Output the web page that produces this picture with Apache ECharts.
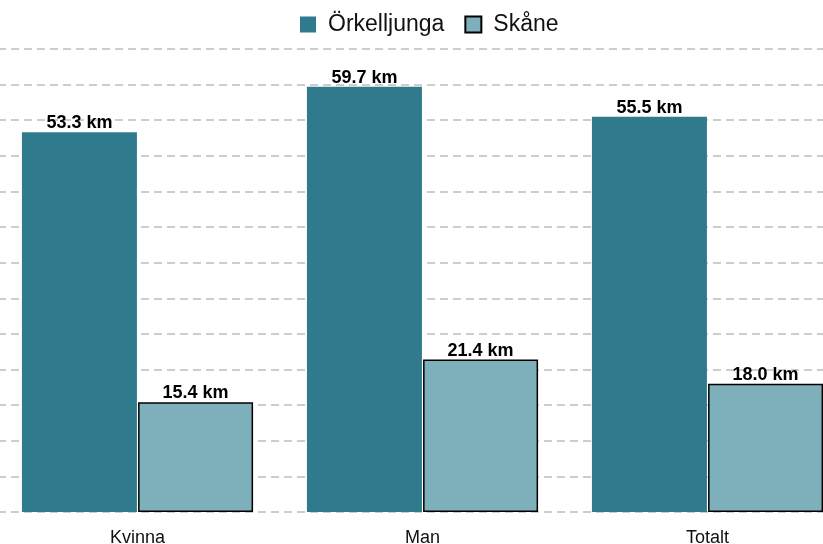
<!DOCTYPE html>
<html>
<head>
<meta charset="utf-8">
<script src="https://cdn.jsdelivr.net/npm/echarts@6/dist/echarts.min.js"></script>
<style>
  html, body { margin: 0; padding: 0; background: #fff; }
  #chart { width: 823px; height: 544px; }
</style>
</head>
<body>
<div id="chart"></div>
<script>
var categories = ["Kvinna", "Man", "Totalt"];
var orkelljunga = [53.3, 59.7, 55.5];
var skane = [15.4, 21.4, 18.0];

var myChart = echarts.init(document.getElementById("chart"));

var labelOpt = {
  show: true,
  position: "top",
  distance: 0,
  fontFamily: "Liberation Sans, Arial, sans-serif",
  fontSize: 18,
  fontWeight: "bold",
  color: "#000",
  formatter: function (p) {
    return p.value.toFixed(1) + " km";
  }
};

var option = {
  animation: false,
  legend: {
    top: 8,
    left: 295,
    icon: "rect",
    itemWidth: 16,
    itemHeight: 16,
    itemGap: 20,
    textStyle: { fontFamily: "Liberation Sans, Arial, sans-serif", fontSize: 23, color: "#111", padding: [0, 0, 0, 7] },
    data: ["Örkelljunga", "Skåne"]
  },
  grid: {
    left: -5,
    right: -27,
    top: 49,
    bottom: 32,
    outerBoundsMode: "none",
    containLabel: false
  },
  xAxis: {
    type: "category",
    data: categories,
    axisLine: { show: false },
    axisTick: { show: false },
    axisLabel: { fontFamily: "Liberation Sans, Arial, sans-serif", fontSize: 18, color: "#111", margin: 17 }
  },
  yAxis: {
    type: "value",
    min: 0,
    max: 65,
    interval: 5,
    axisLabel: { show: false },
    axisLine: { show: false },
    axisTick: { show: false },
    splitLine: {
      lineStyle: { color: "#bdbdbd", type: [8, 5], width: 1.5, dashOffset: 10 }
    }
  },
  series: [
    {
      name: "Örkelljunga",
      type: "bar",
      data: orkelljunga,
      barWidth: 115,
      barGap: "1%",
      itemStyle: { color: "#2f7a8c" },
      label: labelOpt
    },
    {
      name: "Skåne",
      type: "bar",
      data: skane,
      barWidth: 115,
      itemStyle: { color: "#7db0ba", borderColor: "#000", borderWidth: 1.5 },
      label: labelOpt
    }
  ]
};

myChart.setOption(option);
</script>
</body>
</html>
